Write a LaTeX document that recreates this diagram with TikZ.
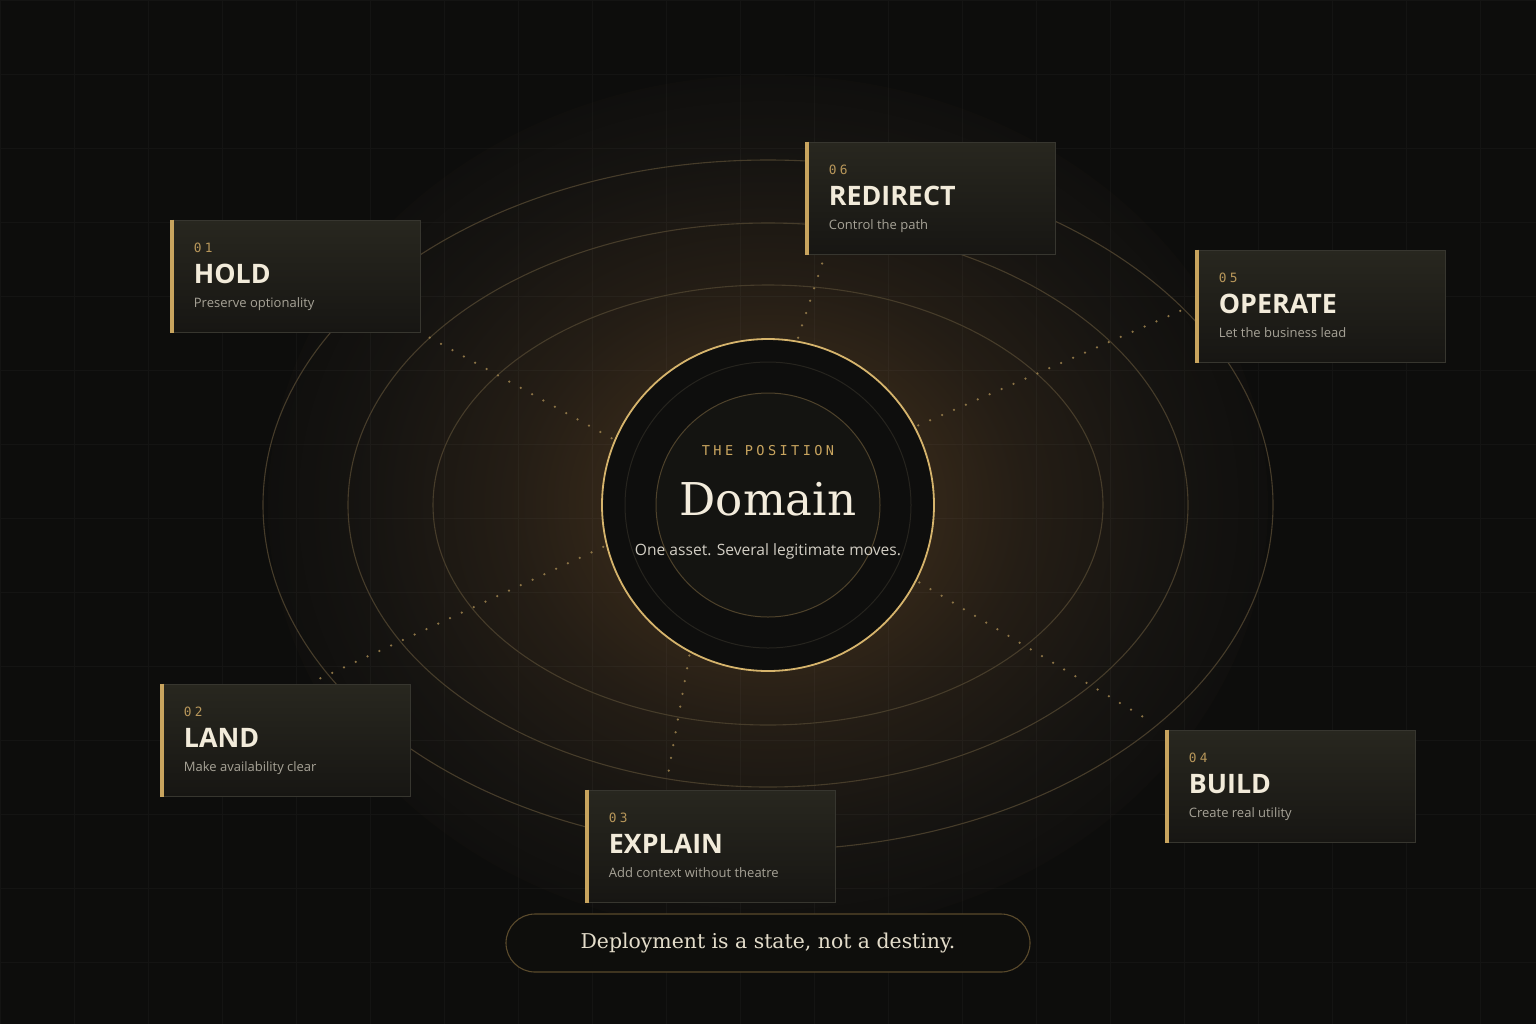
\documentclass[tikz,border=0pt]{standalone}
\usepackage{fontspec}
\setmainfont{Open Sans}
\newfontfamily\seriffont{DejaVu Serif}
\newfontfamily\monofont[LetterSpace=25]{DejaVu Sans Mono}
\usetikzlibrary{positioning}

\definecolor{bgc}{HTML}{0D0D0C}
\definecolor{glowA}{HTML}{352819}
\definecolor{glowB}{HTML}{241D15}
\definecolor{glowC}{HTML}{161411}
\definecolor{orbitc}{HTML}{463C2A}
\definecolor{dotc}{HTML}{8C7446}
\definecolor{goldc}{HTML}{D6B46C}
\definecolor{coref}{HTML}{0E0E0D}
\definecolor{innerf}{HTML}{141411}
\definecolor{midringc}{HTML}{26241E}
\definecolor{inringc}{HTML}{4E422B}
\definecolor{cardtop}{HTML}{28271F}
\definecolor{cardbot}{HTML}{171613}
\definecolor{cardedge}{HTML}{37362F}
\definecolor{accentc}{HTML}{C8A45E}
\definecolor{numc}{HTML}{B8975A}
\definecolor{titlec}{HTML}{F2EBDA}
\definecolor{subc}{HTML}{A7A397}
\definecolor{kickc}{HTML}{C9A55F}
\definecolor{domc}{HTML}{F3ECDC}
\definecolor{tagc}{HTML}{D2CEC4}
\definecolor{pillf}{HTML}{0E0E0C}
\definecolor{pilledge}{HTML}{5A4A2C}
\definecolor{mottoc}{HTML}{E4DDCB}

\pgfdeclareradialshading{glow}{\pgfpoint{0bp}{0bp}}{color(0bp)=(glowA); color(7bp)=(glowA); color(13bp)=(glowB); color(20bp)=(glowC); color(27bp)=(bgc); color(50bp)=(bgc)}

\tikzset{
  gridline/.style={draw=white, opacity=0.03, line width=0.5pt},
  orbit/.style={draw=orbitc, line width=0.55pt},
  dotlink/.style={draw=dotc, line width=1.25pt, line cap=round, dash pattern=on 0pt off 6.5pt, shorten <=2pt},
  ring/.style={circle, minimum size=166pt, inner sep=0pt, outer sep=0pt, fill=coref, draw=goldc, line width=0.9pt},
  card/.style={rectangle, minimum width=125pt, minimum height=56pt, inner sep=0pt, top color=cardtop, bottom color=cardbot, draw=cardedge, line width=0.5pt},
  accent/.style={draw=accentc, line width=2pt},
  num/.style={anchor=base west, inner sep=0pt, text=numc, font=\monofont\fontsize{6.4pt}{7pt}\selectfont},
  ctitle/.style={anchor=base west, inner sep=0pt, text=titlec, font=\bfseries\fontsize{13.4pt}{15pt}\selectfont},
  csub/.style={anchor=base west, inner sep=0pt, text=subc, font=\fontsize{6.5pt}{8pt}\selectfont},
  pill/.style={rectangle, rounded corners=14.5pt, minimum width=262pt, minimum height=29pt, fill=pillf, draw=pilledge, line width=0.55pt, text=mottoc, font=\seriffont\fontsize{10.2pt}{12pt}\selectfont}
}

\begin{document}
\begin{tikzpicture}[x=0.5pt, y=-0.5pt]
\useasboundingbox (0,0) rectangle (1536,1024);
\fill[bgc] (0,0) rectangle (1536,1024);
\begin{scope}
  \clip (0,0) rectangle (1536,1024);
  \shade[shading=glow] (768,505) ellipse [x radius=250pt, y radius=215pt];
\end{scope}
\draw[gridline] (0,0) grid[step=37pt] (1536,1024);

% orbits
\draw[orbit] (768,505) ellipse [x radius=252.5pt, y radius=172.5pt];
\draw[orbit] (768,505) ellipse [x radius=210pt, y radius=141pt];
\draw[orbit] (768,505) ellipse [x radius=167.5pt, y radius=110pt];

% the core
\node[ring] (ring) at (768,505) {};
\draw[draw=midringc, line width=0.5pt] (ring.center) circle[radius=71.5pt];
\filldraw[fill=innerf, draw=inringc, line width=0.5pt] (ring.center) circle[radius=56pt];
\node[anchor=base, inner sep=0pt, text=kickc, font=\monofont\fontsize{6.8pt}{8pt}\selectfont] (kicker) at (768,455) {THE POSITION};
\node[anchor=base, inner sep=0pt, text=domc, font=\seriffont\fontsize{22.6pt}{26pt}\selectfont] (domain) at (768,515) {Domain};
\node[anchor=base, inner sep=0pt, text=tagc, font=\fontsize{7.8pt}{9pt}\selectfont] (tagline) at (768,555) {One asset. Several legitimate moves.};

% cards
\node[card] (hold) at (295,276) {};
\node[card] (land) at (285,740) {};
\node[card] (explain) at (710,846) {};
\node[card] (build) at (1290,786) {};
\node[card] (operate) at (1320,306) {};
\node[card] (redirect) at (930,198) {};

\draw[accent] ([xshift=1pt]hold.north west) -- ([xshift=1pt]hold.south west);
\draw[accent] ([xshift=1pt]land.north west) -- ([xshift=1pt]land.south west);
\draw[accent] ([xshift=1pt]explain.north west) -- ([xshift=1pt]explain.south west);
\draw[accent] ([xshift=1pt]build.north west) -- ([xshift=1pt]build.south west);
\draw[accent] ([xshift=1pt]operate.north west) -- ([xshift=1pt]operate.south west);
\draw[accent] ([xshift=1pt]redirect.north west) -- ([xshift=1pt]redirect.south west);

\node[num] (holdn) at ([shift={(24,33)}]hold.north west) {01};
\node[ctitle] (holdt) at ([shift={(24,64)}]hold.north west) {HOLD};
\node[csub] (holds) at ([shift={(24,88)}]hold.north west) {Preserve optionality};

\node[num] (landn) at ([shift={(24,33)}]land.north west) {02};
\node[ctitle] (landt) at ([shift={(24,64)}]land.north west) {LAND};
\node[csub] (lands) at ([shift={(24,88)}]land.north west) {Make availability clear};

\node[num] (explainn) at ([shift={(24,33)}]explain.north west) {03};
\node[ctitle] (explaint) at ([shift={(24,64)}]explain.north west) {EXPLAIN};
\node[csub] (explains) at ([shift={(24,88)}]explain.north west) {Add context without theatre};

\node[num] (buildn) at ([shift={(24,33)}]build.north west) {04};
\node[ctitle] (buildt) at ([shift={(24,64)}]build.north west) {BUILD};
\node[csub] (builds) at ([shift={(24,88)}]build.north west) {Create real utility};

\node[num] (operaten) at ([shift={(24,33)}]operate.north west) {05};
\node[ctitle] (operatet) at ([shift={(24,64)}]operate.north west) {OPERATE};
\node[csub] (operates) at ([shift={(24,88)}]operate.north west) {Let the business lead};

\node[num] (redirectn) at ([shift={(24,33)}]redirect.north west) {06};
\node[ctitle] (redirectt) at ([shift={(24,64)}]redirect.north west) {REDIRECT};
\node[csub] (redirects) at ([shift={(24,88)}]redirect.north west) {Control the path};

% dotted spokes
\draw[dotlink] (ring.157) -- (hold.south east);
\draw[dotlink] (ring.194) -- ([shift={(35,-5)}]land.north);
\draw[dotlink] (ring.242) -- ([shift={(-43,-9)}]explain.north);
\draw[dotlink] (ring.333) -- ([shift={(-12,-7)}]build.north west);
\draw[dotlink] (ring.28) -- ([shift={(-3,0)}]operate.west);
\draw[dotlink] (ring.80) -- ([shift={(18,8)}]redirect.south west);

\node[pill] (motto) at (768,943) {Deployment is a state, not a destiny.};
\end{tikzpicture}
\end{document}
